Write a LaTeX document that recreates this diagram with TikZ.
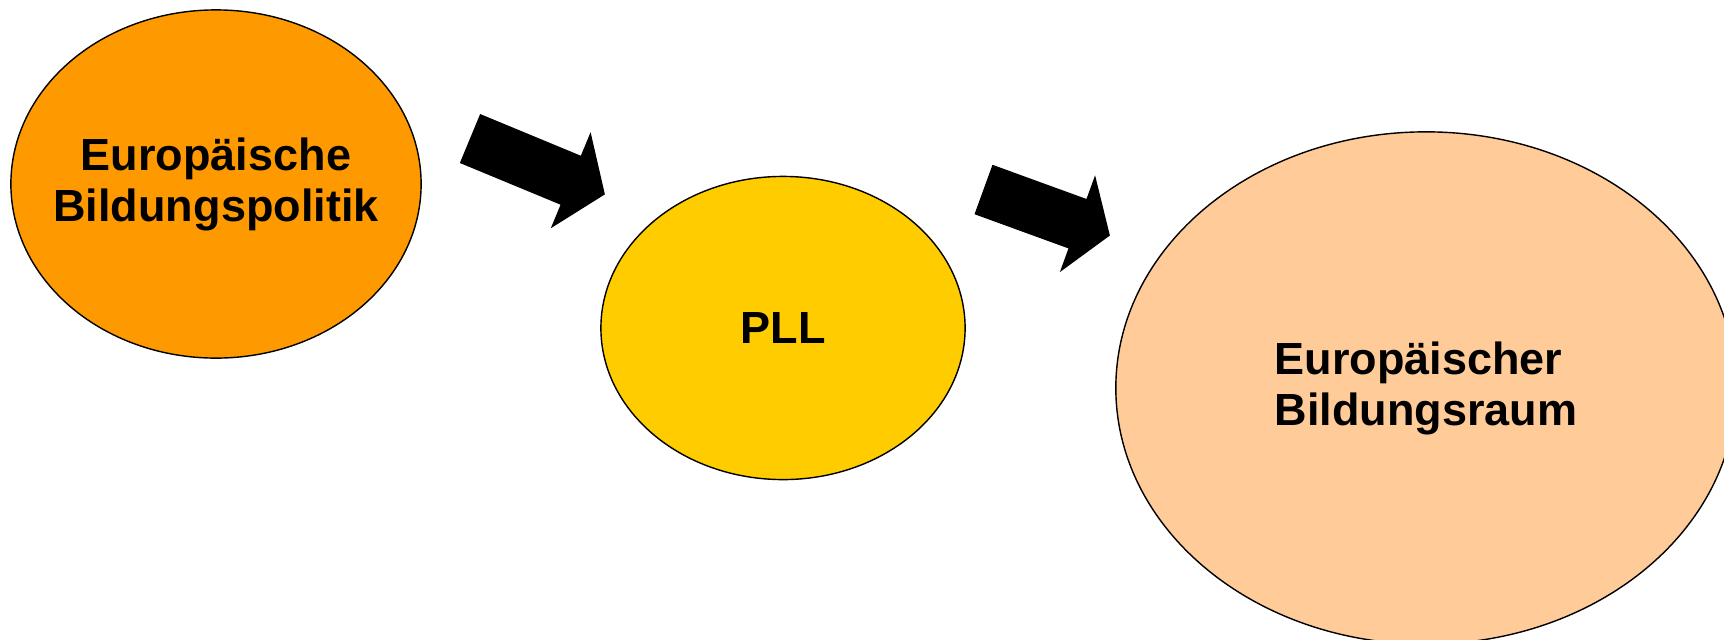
\documentclass[tikz,border=0pt]{standalone}
\usepackage{fontspec}
\setmainfont{Liberation Sans}
\usetikzlibrary{shapes.geometric}

\definecolor{polorange}{HTML}{FF9900}
\definecolor{pllyellow}{HTML}{FFCC00}
\definecolor{raumpeach}{HTML}{FFCC99}

\begin{document}
\begin{tikzpicture} [x=0.01cm, y=-0.01cm,
  bubble/.style={ellipse, draw=black, line width=0.4pt, inner sep=0pt},
  bubbletext/.style={inner sep=0pt, font=\fontsize{12.8}{14.5}\selectfont\bfseries}]

\path [use as bounding box, clip] (0,0) rectangle (1724,639);
\fill [white] (0,0) rectangle (1724,639);

\node [bubble, fill=polorange, minimum width=4.1cm, minimum height=3.48cm,
  label={[bubbletext, align=center]center:Europäische\\Bildungspolitik}] (pol) at (216,184) {};
\node [bubble, fill=pllyellow, minimum width=3.64cm, minimum height=3.03cm,
  label={[bubbletext]center:PLL}] (pll) at (783,328) {};
\node [bubble, fill=raumpeach, minimum width=6.2cm, minimum height=5.12cm,
  label={[bubbletext, align=left]center:Europäischer\\Bildungsraum}] (raum) at (1426,388) {};

\coordinate (a1) at (470,138.5);
\coordinate (a2) at (983.5,189.5);

\begin{scope} [shift={(a1)}, rotate=-22.5]
\fill (0,-26.5) -- (109,-26.5) -- (109,-52) -- (146,0) -- (109,52) -- (109,26.5) -- (0,26.5) -- cycle;
\end{scope}

\begin{scope} [shift={(a2)}, rotate=-20]
\fill (0,-26.3) -- (100,-26.3) -- (100,-51.5) -- (134.5,0) -- (100,51.5) -- (100,26.3) -- (0,26.3) -- cycle;
\end{scope}

\end{tikzpicture}
\end{document}
